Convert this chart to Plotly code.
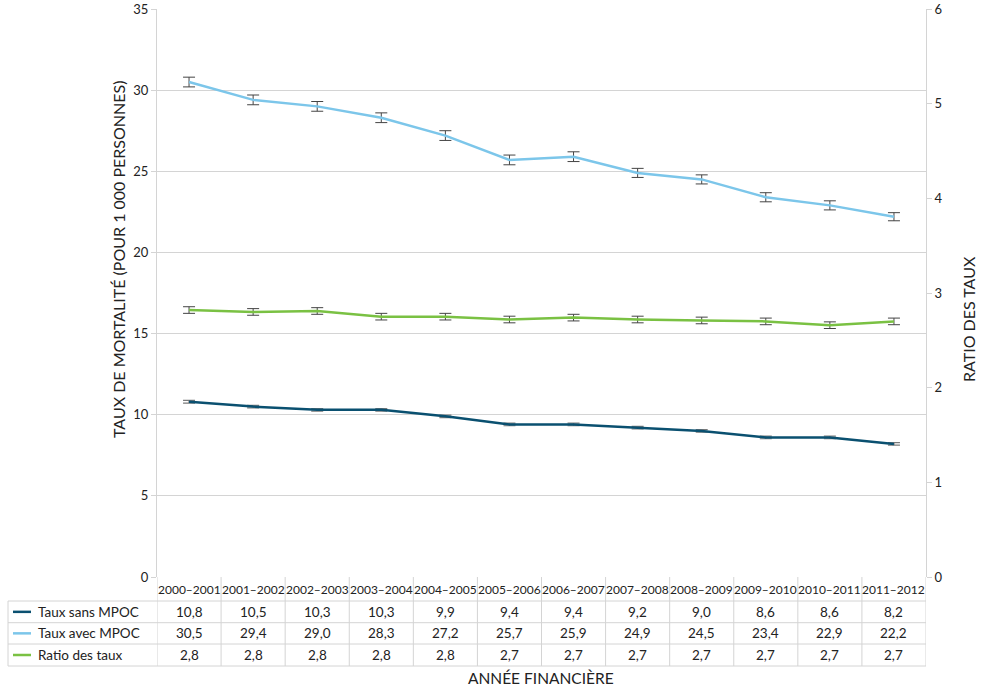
import plotly.graph_objects as go

years = ["2000–2001", "2001–2002", "2002–2003", "2003–2004", "2004–2005", "2005–2006",
         "2006–2007", "2007–2008", "2008–2009", "2009–2010", "2010–2011", "2011–2012"]

taux_sans = [10.8, 10.5, 10.3, 10.3, 9.9, 9.4, 9.4, 9.2, 9.0, 8.6, 8.6, 8.2]
taux_avec = [30.5, 29.4, 29.0, 28.3, 27.2, 25.7, 25.9, 24.9, 24.5, 23.4, 22.9, 22.2]
ratio = [2.82, 2.80, 2.81, 2.75, 2.75, 2.72, 2.74, 2.72, 2.71, 2.70, 2.66, 2.70]

err_sans = [0.08] * 12
err_avec = [0.3, 0.3, 0.3, 0.3, 0.3, 0.3, 0.3, 0.28, 0.28, 0.28, 0.28, 0.25]
err_ratio = [0.035] * 12

tab_sans = ["10,8", "10,5", "10,3", "10,3", "9,9", "9,4", "9,4", "9,2", "9,0", "8,6", "8,6", "8,2"]
tab_avec = ["30,5", "29,4", "29,0", "28,3", "27,2", "25,7", "25,9", "24,9", "24,5", "23,4", "22,9", "22,2"]
tab_ratio = ["2,8", "2,8", "2,8", "2,8", "2,8", "2,7", "2,7", "2,7", "2,7", "2,7", "2,7", "2,7"]

row_labels = ["Taux sans MPOC", "Taux avec MPOC", "Ratio des taux"]
colors = ["#0a5070", "#7cc6ea", "#7ac143"]

FONT = "Lato, 'Open Sans', sans-serif"
TXT = "#222222"
GRID = "#d4d4d4"

W, H = 982, 691
ML, MR, MT, MB = 157, 56, 9, 114
PW, PH = W - ML - MR, H - MT - MB

def py(p):  # pixel y -> paper y
    return (H - MB - p) / PH

def px(p):  # pixel x -> paper x
    return (p - ML) / PW

xs = list(range(len(years)))

fig = go.Figure()
fig.add_trace(go.Scatter(x=xs, y=taux_sans, mode="lines", name=row_labels[0],
                         line=dict(color=colors[0], width=2.5),
                         error_y=dict(type="data", array=err_sans, color="#7a7a7a", thickness=1.2, width=6)))
fig.add_trace(go.Scatter(x=xs, y=taux_avec, mode="lines", name=row_labels[1],
                         line=dict(color=colors[1], width=2.5),
                         error_y=dict(type="data", array=err_avec, color="#444444", thickness=1, width=6)))
fig.add_trace(go.Scatter(x=xs, y=ratio, mode="lines", name=row_labels[2], yaxis="y2",
                         line=dict(color=colors[2], width=2.5),
                         error_y=dict(type="data", array=err_ratio, color="#444444", thickness=1, width=6)))

# table geometry (pixel rows)
row_edges = [577, 601, 622.7, 644, 666]
edges = [py(p) for p in row_edges]
left_edge = px(8)

shapes = []
line_style = dict(color=GRID, width=1)
for i in range(len(years) + 1):
    shapes.append(dict(type="line", xref="x", yref="paper", x0=i - 0.5, x1=i - 0.5,
                       y0=edges[0], y1=edges[-1], line=line_style, layer="below"))
shapes.append(dict(type="line", xref="paper", yref="paper", x0=left_edge, x1=left_edge,
                   y0=edges[1], y1=edges[-1], line=line_style))
for e in edges[1:]:
    shapes.append(dict(type="line", xref="paper", yref="paper", x0=left_edge, x1=1,
                       y0=e, y1=e, line=line_style))
for r in range(3):
    yc = (edges[r + 1] + edges[r + 2]) / 2
    shapes.append(dict(type="line", xref="paper", yref="paper", x0=px(13), x1=px(31),
                       y0=yc, y1=yc, line=dict(color=colors[r], width=2.5)))

def note(x, y, text, size, xref="paper", xanchor="center", angle=0):
    return dict(x=x, y=y, xref=xref, yref="paper", text=text, showarrow=False,
                xanchor=xanchor, yanchor="middle", textangle=angle,
                font=dict(size=size, color=TXT, family=FONT))

annotations = []
hdr_y = (edges[0] + edges[1]) / 2
for i, yr in enumerate(years):
    annotations.append(note(i, hdr_y, yr, 12, xref="x"))
for r, vals in enumerate([tab_sans, tab_avec, tab_ratio]):
    yc = (edges[r + 1] + edges[r + 2]) / 2
    annotations.append(note(px(36), yc, row_labels[r], 13.5, xanchor="left"))
    for i, v in enumerate(vals):
        annotations.append(note(i, yc, v, 13.5, xref="x"))

annotations.append(note(px(541), py(678), "ANNÉE FINANCIÈRE", 15.5))
annotations.append(note(px(118), py(260), "TAUX DE MORTALITÉ (POUR 1 000 PERSONNES)", 16, angle=-90))
annotations.append(note(px(968), py(319), "RATIO DES TAUX", 16, angle=-90))

fig.update_layout(
    width=W, height=H,
    margin=dict(l=ML, r=MR, t=MT, b=MB, pad=0, autoexpand=False),
    paper_bgcolor="white", plot_bgcolor="white",
    showlegend=False,
    font=dict(family=FONT, color=TXT, size=13),
    xaxis=dict(range=[-0.5, len(years) - 0.5], showticklabels=False, showgrid=False,
               zeroline=False, showline=False, ticks="", automargin=False),
    yaxis=dict(range=[0, 35], dtick=5, showgrid=True, gridcolor=GRID, gridwidth=1,
               zeroline=False, showline=True, linecolor=GRID, linewidth=1, automargin=False,
               ticks="outside", ticklen=5, tickcolor=GRID, tickfont=dict(size=13, color=TXT)),
    yaxis2=dict(range=[0, 6], dtick=1, overlaying="y", side="right", showgrid=False,
                zeroline=False, showline=True, linecolor=GRID, linewidth=1, automargin=False,
                ticks="outside", ticklen=5, tickcolor=GRID, tickfont=dict(size=13, color=TXT)),
    shapes=shapes,
    annotations=annotations,
)

fig.write_html("out.html", config={"displayModeBar": False},
               post_script="document.body.style.margin='0px';")
